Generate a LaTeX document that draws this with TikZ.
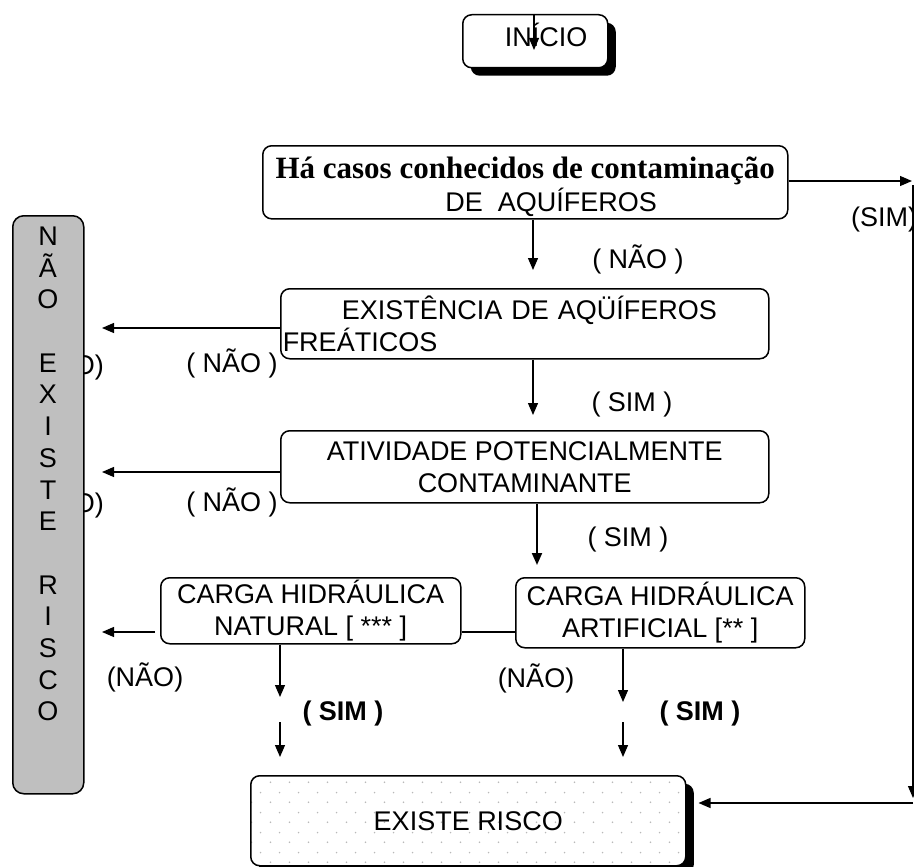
\documentclass[tikz,border=0pt]{standalone}
\usepackage{fontspec}
\setmainfont{Liberation Sans}
\newfontfamily\serifb{Liberation Serif}
\usetikzlibrary{arrows.meta, shadows, patterns.meta}
\pgfdeclarepattern{
  name=pontos,
  type=uncolored,
  bottom left={\pgfpoint{0pt}{0pt}},
  top right={\pgfpoint{19pt}{20pt}},
  tile size={\pgfpoint{19pt}{20pt}},
  code={
    \pgfpathcircle{\pgfpoint{4.75pt}{5pt}}{0.9pt}
    \pgfpathcircle{\pgfpoint{14.25pt}{15pt}}{0.9pt}
    \pgfusepath{fill}
  }
}
\tikzstyle{caixa} = [rectangle, draw=black, line width=1.5pt, rounded corners=9pt, fill=white, inner sep=2pt, align=center, font=\fontsize{27}{32}\selectfont]
\tikzstyle{sombra} = [drop shadow={shadow xshift=8pt, shadow yshift=-8pt, fill=black, opacity=1}]
\tikzstyle{seta} = [-{Triangle[length=12pt,width=10pt]}, line width=1.3pt]
\tikzstyle{rotulo} = [inner sep=0pt, font=\fontsize{27}{32}\selectfont]
\tikzstyle{rotulob} = [inner sep=0pt, font=\bfseries\fontsize{27}{32}\selectfont]

\begin{document}
\begin{tikzpicture}[x=1pt, y=-1pt]
    \useasboundingbox (0,0) rectangle (914,867);

        % caixas
        \node (inicio) [caixa, sombra, minimum width=145pt, minimum height=53pt, anchor=north west] at (462,14) {};
        \node (inicioT) [rotulo] at (546,35) {INÍCIO};

        \node (casos) [caixa, minimum width=525pt, minimum height=69pt, anchor=north west] at (262,145) {{\serifb\bfseries\fontsize{31}{33}\selectfont\rule{0pt}{31pt}Há casos conhecidos de contaminação}\\[1pt]\hspace*{52pt}DE\ \ AQUÍFEROS};
        \node (freaticos) [caixa, minimum width=488pt, minimum height=70pt, text width=484pt, align=left, anchor=north west] at (280,288) {\hspace*{59pt}EXISTÊNCIA DE AQÜÍFEROS\\FREÁTICOS};
        \node (atividade) [caixa, minimum width=488pt, minimum height=72pt, anchor=north west] at (280,430) {ATIVIDADE POTENCIALMENTE\\CONTAMINANTE};
        \node (natural) [caixa, minimum width=300pt, minimum height=66pt, anchor=north west] at (160,577) {CARGA HIDRÁULICA\\NATURAL [ *** ]};
        \node (artificial) [caixa, minimum width=289pt, minimum height=70pt, anchor=north west] at (515,577) {CARGA HIDRÁULICA\\ARTIFICIAL [** ]};
        \node (risco) [caixa, sombra, preaction={fill=white}, pattern=pontos, pattern color=gray!55, minimum width=435pt, minimum height=90pt, anchor=north west] at (250,775) {EXISTE RISCO};

        % rotulos
        \node (naoA) [rotulo, anchor=east] at (104,365) {(NÃO)};
        \node (naoB) [rotulo, anchor=east] at (104,503) {(NÃO)};
        \node (simR) [rotulo, anchor=west] at (851,220) {(SIM)};
        \node (naoL1) [rotulo] at (638,259) {( NÃO )};
        \node (naoL2) [rotulo] at (232,363) {( NÃO )};
        \node (simL2) [rotulo] at (632,405) {( SIM )};
        \node (naoL3) [rotulo] at (232,502) {( NÃO )};
        \node (simL3) [rotulo] at (628,540) {( SIM )};
        \node (naoL4) [rotulo] at (145,677) {(NÃO)};
        \node (naoL5) [rotulo] at (536,678) {(NÃO)};
        \node (simL4) [rotulob] at (343,714) {( SIM )};
        \node (simL5) [rotulob] at (700,714) {( SIM )};

        % nao existe risco
        \node (naoexiste) [rectangle, draw=black, line width=1.5pt, rounded corners=11pt, fill=gray!50, minimum width=71pt, minimum height=578pt, anchor=north west] at (12,215) {};
        \node (letras) [rotulo, align=center, font=\fontsize{27}{31.7}\selectfont] at (48,474) {N\\Ã\\O\\\mbox{}\\E\\X\\I\\S\\T\\E\\\mbox{}\\R\\I\\S\\C\\O};

        % setas
        \coordinate (setaI) at (534,50);
        \draw[seta] (inicio.north -| setaI) -- (setaI);

        \coordinate (simA) at (912,181);
        \coordinate (simB) at (913,185);
        \coordinate (simC) at (913,798);
        \coordinate (simD) at (913,803);
        \coordinate (riscoE) at ([xshift=12pt]risco.east);
        \draw[seta] (casos.east |- simA) -- (simA);
        \draw[seta] (simB) -- (simC);
        \draw[seta] (simD) -- (riscoE |- simD);

        \coordinate (a1) at (533,270);
        \coordinate (a2) at (533,415);
        \coordinate (a3) at (537,565);
        \draw[seta] (casos.south -| a1) -- (a1);
        \draw[seta] (freaticos.south -| a2) -- (a2);
        \draw[seta, line width=2pt] (atividade.south -| a3) -- (a3);

        \coordinate (e1) at (102,328);
        \coordinate (e2) at (102,472);
        \coordinate (e3) at (102,632);
        \draw[seta] (freaticos.west |- e1) -- (e1);
        \draw[seta] (atividade.west |- e2) -- (e2);
        \draw[seta] ([xshift=-5pt]natural.west |- e3) -- (e3);

        \coordinate (ligA) at (natural.east |- e3);
        \draw[line width=1.3pt] (ligA) -- (ligA -| artificial.west);

        \coordinate (n1) at (280,697);
        \coordinate (n2) at (280,722);
        \coordinate (n3) at (280,757);
        \draw[seta] (natural.south -| n1) -- (n1);
        \draw[seta] (n2) -- (n3);

        \coordinate (m1) at (623,702);
        \coordinate (m2) at (623,722);
        \coordinate (m3) at (623,757);
        \draw[seta] (artificial.south -| m1) -- (m1);
        \draw[seta] (m2) -- (m3);

    \end{tikzpicture}
\end{document}
